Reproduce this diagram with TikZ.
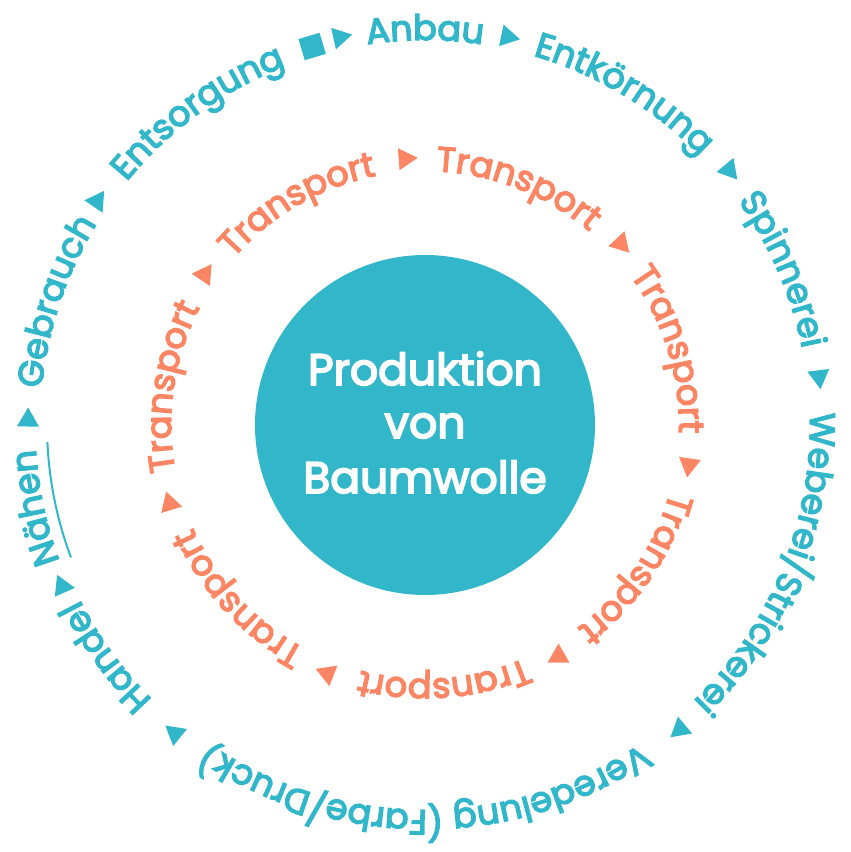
\documentclass[tikz,border=0pt]{standalone}
\usepackage{fontspec}
\newfontfamily\pfont{Poppins}[FakeBold=4]
\usetikzlibrary{decorations.text}
\definecolor{tealc}{RGB}{49,183,201}
\definecolor{orangec}{RGB}{252,134,100}
\newcommand\ringfont{\pfont\fontsize{35}{40}\selectfont}
\newcommand\ringtext[5]{%
  \path[decorate, decoration={text along path, text align=center,
      text={|\ringfont\color{#1}|#5}}]
    ({#2+#3}:#4) arc[start angle={#2+#3}, end angle={#2-#3}, radius=#4];}
\newcommand\ringtri[3]{%
  \fill[#1] ({#2}:#3) ++({#2-90}:12.7) -- ++({#2-90+150}:22) -- ++({#2-90+270}:22) -- cycle;}
\tikzset{
  hub/.style={circle, fill=tealc, minimum size=340, inner sep=0pt},
  hubtext/.style={text=white, anchor=base, inner sep=0pt, font=\pfont\fontsize{44}{50}\selectfont},
  endsquare/.style={fill=tealc, minimum size=22, inner sep=0pt},
}
\begin{document}
\begin{tikzpicture}[x=1pt,y=1pt]
\useasboundingbox (-425,-427) rectangle (426,425);
\node[hub] (hub) at (0,0) {};
\node[hubtext] (t1) at (0,40) {Produktion};
\node[hubtext] (t2) at (0,-13) {von};
\node[hubtext] (t3) at (0,-68) {Baumwolle};
% outer ring
\ringtext{tealc}{90}{25}{385}{Anbau}
\ringtext{tealc}{59}{35}{385}{Entkörnung}
\ringtext{tealc}{23.5}{30}{385}{Spinnerei}
\ringtext{tealc}{-22}{40}{385}{Weberei/Strickerei}
\ringtext{tealc}{-90}{55}{385}{Veredelung (Farbe/Druck)}
\ringtext{tealc}{-144}{20}{387}{Handel}
\ringtext{tealc}{192}{20}{390}{Nähen}
\ringtext{tealc}{161.5}{25}{385}{Gebrauch}
\ringtext{tealc}{126}{30}{385}{Entsorgung}
\foreach \a in {102.4,78,40,7,-50,-129,-156,179.3,145.7} {\ringtri{tealc}{\a}{397}}
\node[endsquare, rotate=16.6] (sq) at (106.6:395) {};
\draw[tealc, line width=2] (182.6:378) arc[start angle=182.6, end angle=200.5, radius=378];
% inner ring
\foreach \k in {0,...,6} {
  \pgfmathsetmacro\ang{120-\k*360/7}
  \ringtext{orangec}{\ang}{30}{254}{Transport}
  \pgfmathsetmacro\tang{\ang-360/14}
  \ringtri{orangec}{\tang}{267}
}
\end{tikzpicture}
\end{document}
